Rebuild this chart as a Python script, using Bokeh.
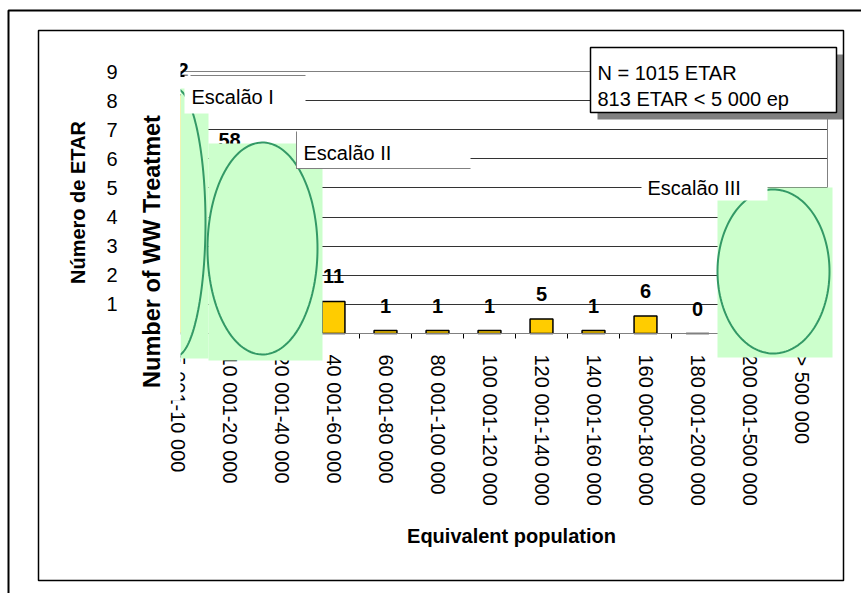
import numpy as np
from bokeh.plotting import figure
from bokeh.core.properties import value
from bokeh.models import (ColumnDataSource, Range1d, FixedTicker, LabelSet, Label,
                          BoxAnnotation, PolyAnnotation)
from bokeh.embed import file_html
from bokeh.resources import INLINE

# ---------------- data ----------------
categories = ["5 001-10 000", "10 001-20 000", "20 001-40 000", "40 001-60 000",
              "60 001-80 000", "80 001-100 000", "100 001-120 000", "120 001-140 000",
              "140 001-160 000", "160 000-180 000", "180 001-200 000",
              "200 001-500 000", "> 500 000"]
counts = [82, 58, 28, 11, 1, 1, 1, 5, 1, 6, 0, 6, 2]
y_ticks = [10, 20, 30, 40, 50, 60, 70, 80, 90]
y_tick_labels = ["1", "2", "3", "4", "5", "6", "7", "8", "9"]
y_title = "Número de ETAR"
y_title_en = "Number of WW Treatmet"
x_title = "Equivalent population"
note_lines = ["N = 1015 ETAR", "813 ETAR < 5 000 ep"]
band_labels = ["Escalão I", "Escalão II", "Escalão III"]

# ---------------- layout geometry (canvas px) ----------------
W, H = 861, 593
PL, PR, PT, PB = 151, 827, 71, 333      # plot area edges
NCAT = len(categories)
YMAX = 90
FONT = "Liberation Sans"

ux = (PR - PL) / NCAT                   # px per category
uy = (PB - PT) / YMAX                   # px per count
x_range = Range1d(-0.5 - PL / ux, NCAT - 0.5 + (W - PR) / ux)
y_range = Range1d(-(H - PB) / uy, YMAX + PT / uy)

positions = list(range(NCAT))
src = ColumnDataSource(dict(x=positions, top=counts, label=[str(c) for c in counts]))

p = figure(width=W, height=H, x_range=x_range, y_range=y_range,
           output_backend="svg", toolbar_location=None, title=None,
           min_border_left=0, min_border_right=0, min_border_top=0, min_border_bottom=0)
p.background_fill_color = "white"
p.border_fill_color = "white"
p.outline_line_color = None

# axes placed at the plot-area edges
p.yaxis.fixed_location = -0.5
p.yaxis.bounds = (0, YMAX)
p.yaxis.ticker = FixedTicker(ticks=y_ticks)
p.yaxis.major_label_overrides = {t: l for t, l in zip(y_ticks, y_tick_labels)}
p.yaxis.axis_line_color = None
p.yaxis.major_tick_line_color = None
p.yaxis.minor_tick_line_color = None
p.yaxis.major_tick_out = 0
p.yaxis.major_label_standoff = 34
p.yaxis.major_label_text_font = FONT
p.yaxis.major_label_text_font_size = "20px"
p.yaxis.major_label_text_color = "black"
p.yaxis.axis_label = y_title
p.yaxis.axis_label_text_font = FONT
p.yaxis.axis_label_text_font_style = "bold"
p.yaxis.axis_label_text_font_size = "20px"
p.yaxis.axis_label_text_color = "black"
p.yaxis.axis_label_standoff = 14

p.xaxis.fixed_location = 0
p.xaxis.bounds = (-0.5, NCAT - 0.5)
p.xaxis.ticker = FixedTicker(ticks=positions, minor_ticks=[i - 0.5 for i in range(NCAT + 1)])
p.xaxis.major_label_overrides = {i: c for i, c in enumerate(categories)}
p.xaxis.major_label_orientation = "vertical"
p.xaxis.axis_line_color = "black"
p.xaxis.axis_line_width = 1.2
p.xaxis.major_tick_line_color = None
p.xaxis.major_tick_out = 0
p.xaxis.major_tick_in = 0
p.xaxis.minor_tick_line_color = "black"
p.xaxis.minor_tick_out = 5
p.xaxis.minor_tick_in = 0
p.xaxis.major_label_standoff = 16
p.xaxis.major_label_text_font = FONT
p.xaxis.major_label_text_font_size = "20px"
p.xaxis.major_label_text_color = "black"

GRID_COLOR = "#333333"
p.xgrid.visible = False
if "cross_bounds" in p.ygrid[0].properties():
    p.ygrid.ticker = FixedTicker(ticks=y_ticks)
    p.ygrid.cross_bounds = (-0.5, NCAT - 0.5)
    p.ygrid.grid_line_color = GRID_COLOR
    p.ygrid.grid_line_width = 1
else:
    p.ygrid.visible = False
    p.segment(x0=[-0.5] * len(y_ticks), x1=[NCAT - 0.5] * len(y_ticks),
              y0=y_ticks, y1=y_ticks, line_color=GRID_COLOR, line_width=1)

p.vbar(x="x", top="top", width=0.44, source=src, fill_color="#FFCC00",
       line_color="black", line_width=1.5)


def box(l, t, r, b, fill="white", line=None, lw=1):
    return BoxAnnotation(left=l, right=r, top=t, bottom=b,
                         left_units="canvas", right_units="canvas",
                         top_units="canvas", bottom_units="canvas",
                         fill_color=fill if fill else "white", fill_alpha=1 if fill else 0,
                         line_color=line if line else "white", line_alpha=1 if line else 0,
                         line_width=lw, line_dash="solid")


def ellipse(ex, ey, rx, ry):
    t = np.linspace(0, 2 * np.pi, 160)
    xs = [float(ex + rx * np.cos(a)) for a in t]
    ys = [float(ey + ry * np.sin(a)) for a in t]
    return PolyAnnotation(xs=xs, ys=ys, xs_units="canvas", ys_units="canvas",
                          fill_alpha=0, line_color="#339966", line_width=2, line_alpha=1)


def label(text, x, y, size="20px", bold=False, align="left", baseline="alphabetic", angle=0):
    return Label(x=x, y=y, x_units="canvas", y_units="canvas", text=text,
                 text_font=FONT, text_font_size=size,
                 text_font_style="bold" if bold else "normal", text_align=align,
                 text_baseline=baseline, text_color="black", angle=angle, angle_units="deg")


# plot-area border (grey)
p.add_layout(box(PL, PT, PR, PB, fill=None, line="#808080", lw=1))

# value labels
p.add_layout(LabelSet(x="x", y="top", text="label", source=src, y_offset=18,
                      text_align="center", text_baseline="alphabetic",
                      text_font=value(FONT), text_font_size=value("20px"),
                      text_font_style="bold", text_color="black"))

GREEN = "#CCFFCC"
# green highlight patches
p.add_layout(box(180, 88, 208, 358, fill=GREEN))
p.add_layout(box(208, 143, 322, 360, fill=GREEN))
p.add_layout(box(717, 187, 832, 357, fill=GREEN))
p.add_layout(ellipse(175, 222, 30, 134))
p.add_layout(ellipse(262, 248, 55, 106))
p.add_layout(ellipse(773, 271, 56, 82))

# white text boxes
p.add_layout(box(125, 55, 180, 400))
p.add_layout(box(184, 75, 305, 113))
p.add_layout(box(190, 74.5, 305, 75.5, fill="#808080"))
p.add_layout(box(296, 131, 470, 168))
p.add_layout(box(295.5, 131, 296.5, 168.5, fill="#808080"))
p.add_layout(box(296, 167.5, 470, 168.5, fill="#808080"))
p.add_layout(box(641, 163, 767, 200))

# note box with shadow
p.add_layout(box(597, 54, 843, 119, fill="#808080"))
p.add_layout(box(590, 47, 836, 112, fill="white", line="black", lw=1.5))

p.add_layout(label(note_lines[0], 597, 72))
p.add_layout(label(note_lines[1], 597, 98))
p.add_layout(label(band_labels[0], 191, 96))
p.add_layout(label(band_labels[1], 303, 152))
p.add_layout(label(band_labels[2], 647, 187))
p.add_layout(label(y_title_en, 151, 251, size="23.5px", bold=True, align="center",
                   baseline="middle", angle=90))
p.add_layout(label(x_title, 511, 535, bold=True, align="center", baseline="middle"))

# chart frames
p.add_layout(box(38, 30, 843, 580, fill=None, line="black", lw=1.5))
p.add_layout(box(8, 10, 880, 620, fill=None, line="black", lw=2))

open("out.html", "w").write(file_html(p, INLINE))
